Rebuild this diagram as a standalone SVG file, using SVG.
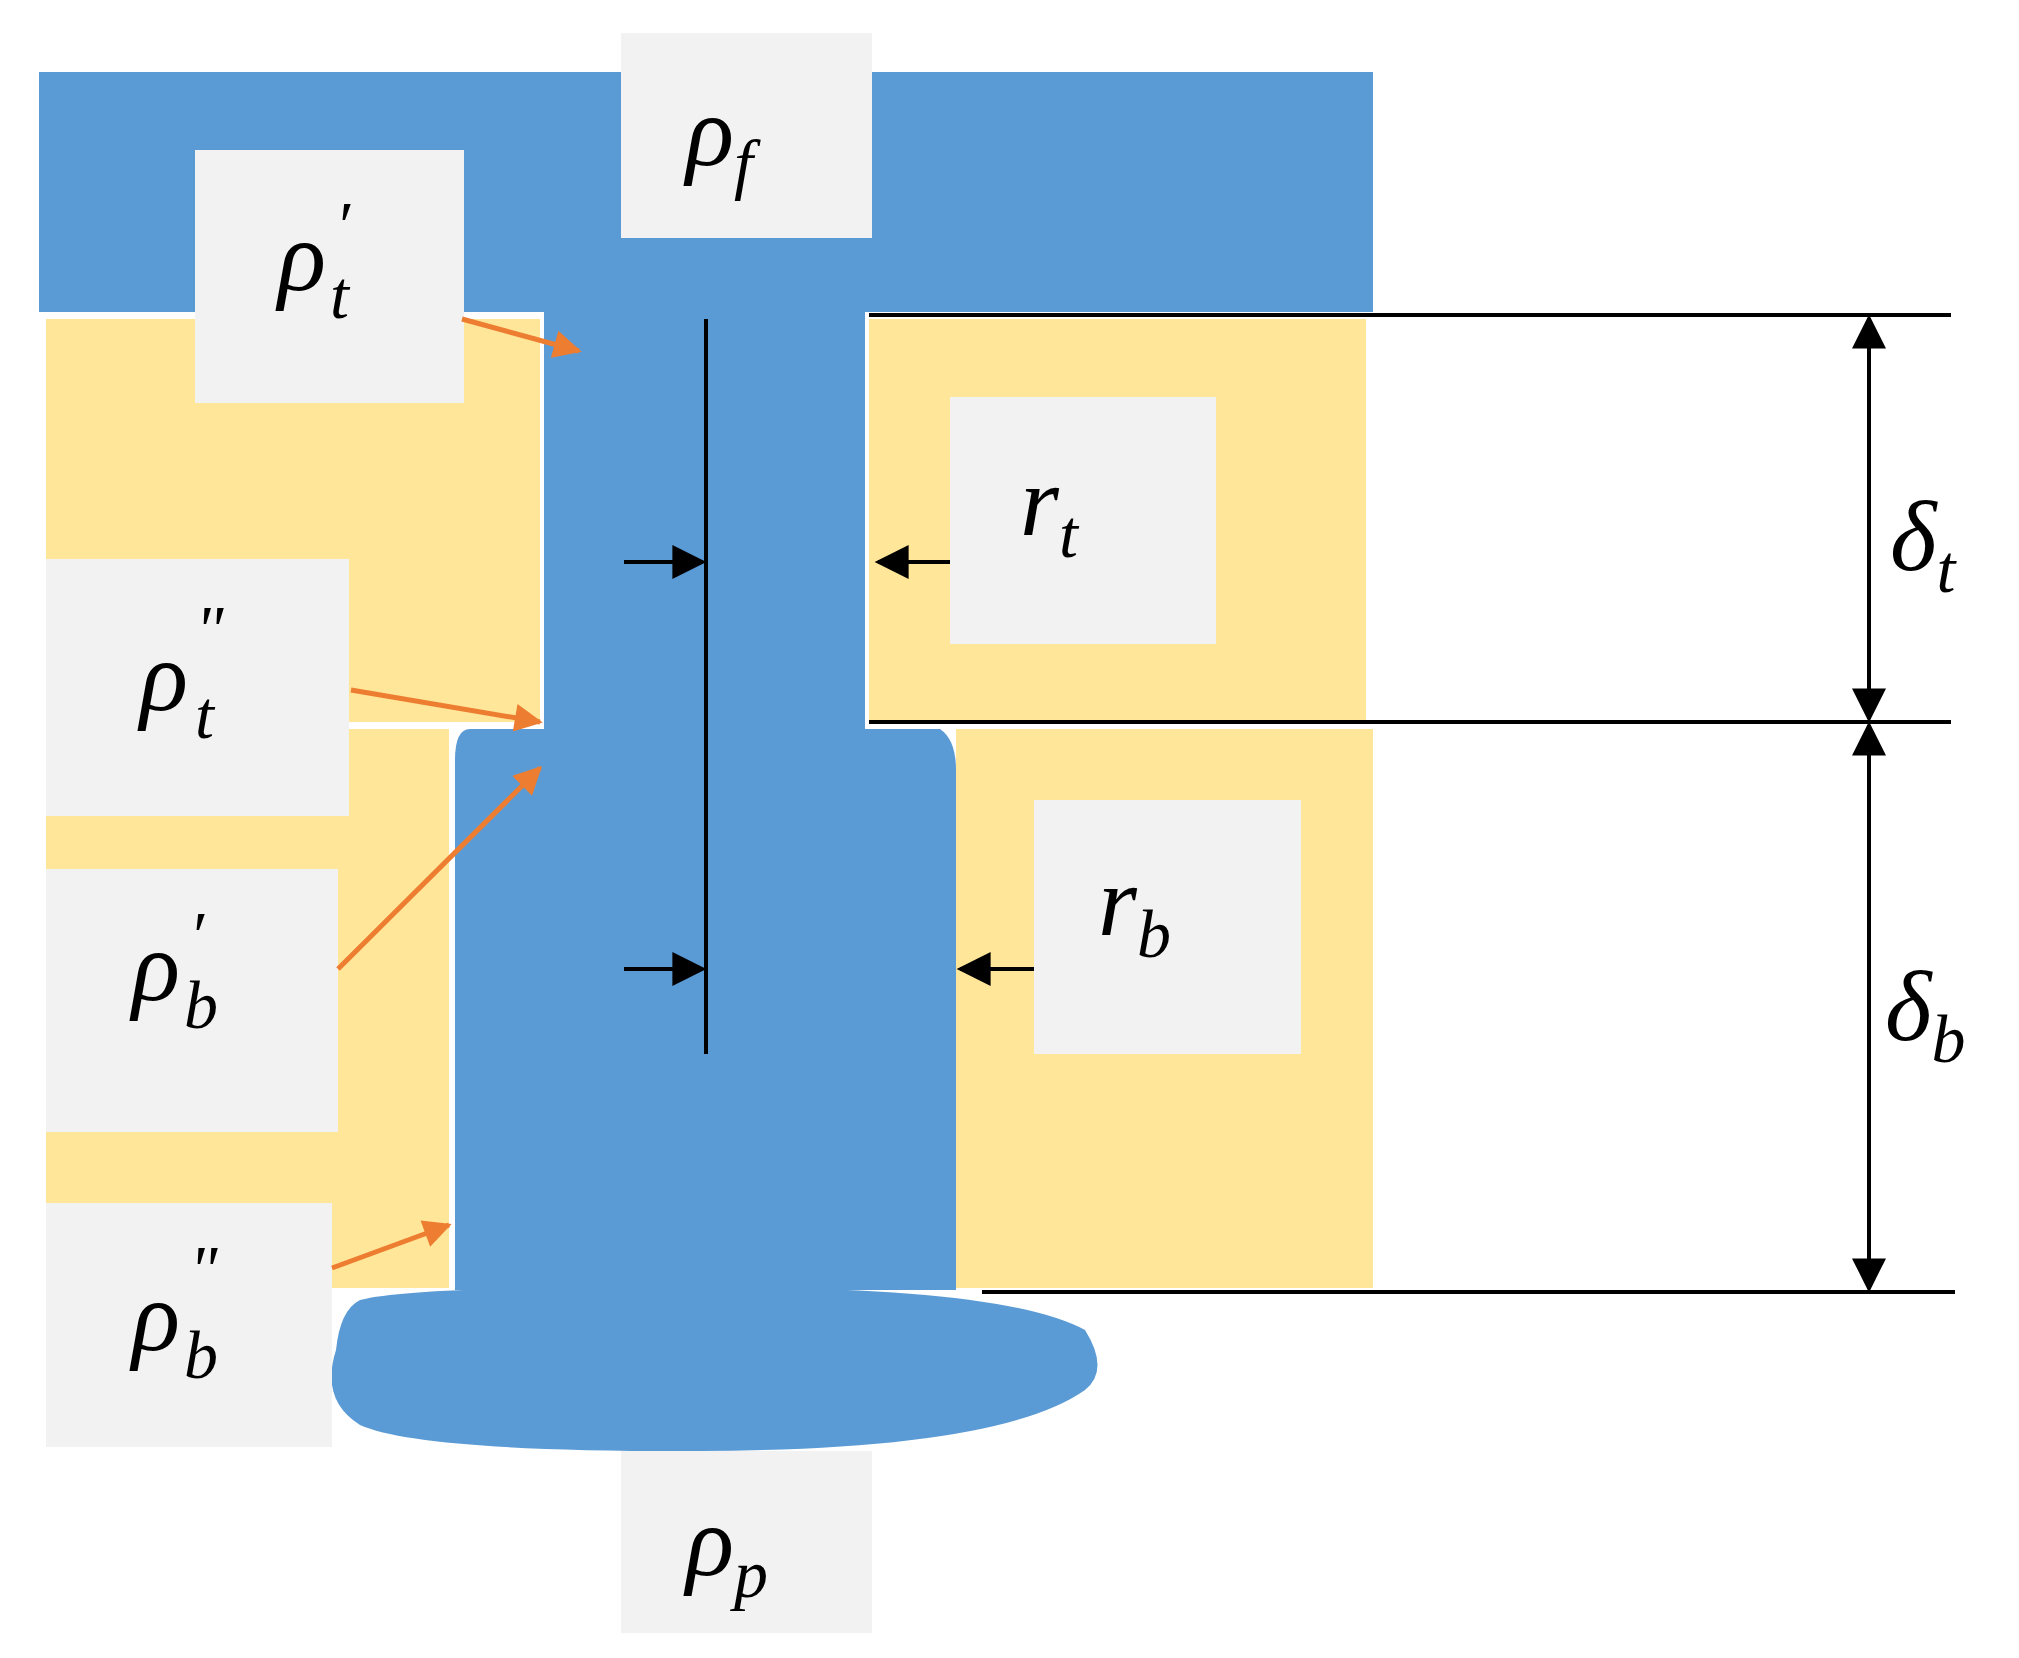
<svg xmlns="http://www.w3.org/2000/svg" width="2019" height="1658" viewBox="0 0 2019 1658">
<style>
.b{fill:#5b9bd5}.y{fill:#ffe699}.g{fill:#f2f2f2}
.t{font-family:"Liberation Serif","DejaVu Serif",serif;font-style:italic;font-size:100px;fill:#000}
.s{font-size:68px}
.k{stroke:#000;stroke-width:4;fill:none}
.o{stroke:#ed7d31;stroke-width:5;fill:none}
</style>
<defs>
<marker id="ab" viewBox="0 0 10 10" refX="9" refY="5" markerWidth="40" markerHeight="34" markerUnits="userSpaceOnUse" orient="auto"><path d="M0,0L10,5L0,10z" fill="#000"/></marker>
<marker id="ad" viewBox="0 0 10 10" refX="9" refY="5" markerWidth="40" markerHeight="34" markerUnits="userSpaceOnUse" orient="auto-start-reverse"><path d="M0,0L10,5L0,10z" fill="#000"/></marker>
<marker id="ao" viewBox="0 0 10 10" refX="9" refY="5" markerWidth="34" markerHeight="28" markerUnits="userSpaceOnUse" orient="auto"><path d="M0,0L10,5L0,10z" fill="#ed7d31"/></marker>
</defs>
<rect width="2019" height="1658" fill="#fff"/>
<g id="body">
<rect class="y" x="46" y="319" width="494" height="403"/>
<rect class="y" x="46" y="729" width="403" height="559"/>
<rect class="y" x="869" y="319" width="497" height="403"/>
<rect class="y" x="956" y="729" width="417" height="559"/>
<rect class="b" x="39" y="72" width="1334" height="240"/>
<rect class="b" x="544" y="300" width="321" height="430"/>
<path class="b" d="M470,729 L940,729 Q956,740 956,770 L956,1290 L455,1290 L455,760 Q455,729 470,729z"/>
<path class="b" d="M360,1300 Q420,1285 700,1288 Q1000,1285 1085,1330 Q1110,1370 1085,1390 Q1000,1450 700,1451 Q420,1452 360,1425 Q320,1400 336,1350 Q340,1310 360,1300z"/>
</g>
<g id="labels">
<g id="pf"><rect class="g" x="621" y="33" width="251" height="205"/><text class="t" x="686" y="165">ρ<tspan class="s" dy="22">f</tspan></text></g>
<g id="pt1"><rect class="g" x="195" y="150" width="269" height="253"/><text class="t" x="278" y="290">ρ</text><text class="t s" x="335" y="248">′</text><text class="t s" x="330" y="318">t</text></g>
<g id="pt2"><rect class="g" x="46" y="559" width="303" height="257"/><text class="t" x="140" y="710">ρ</text><text class="t s" x="195" y="652">"</text><text class="t s" x="195" y="738">t</text></g>
<g id="pb1"><rect class="g" x="46" y="869" width="292" height="263"/><text class="t" x="132" y="1000">ρ</text><text class="t s" x="189" y="958">′</text><text class="t s" x="184" y="1028">b</text></g>
<g id="pb2"><rect class="g" x="46" y="1203" width="286" height="244"/><text class="t" x="132" y="1350">ρ</text><text class="t s" x="189" y="1292">"</text><text class="t s" x="184" y="1378">b</text></g>
<g id="pp"><rect class="g" x="621" y="1451" width="251" height="182"/><text class="t" x="686" y="1575">ρ<tspan class="s" dy="22">p</tspan></text></g>
<g id="rt"><rect class="g" x="950" y="397" width="266" height="247"/><text class="t" x="1020" y="535">r<tspan class="s" dy="22">t</tspan></text></g>
<g id="rb"><rect class="g" x="1034" y="800" width="267" height="254"/><text class="t" x="1098" y="935">r<tspan class="s" dy="22">b</tspan></text></g>
<text class="t" x="1890" y="570">δ<tspan class="s" dy="22">t</tspan></text>
<text class="t" x="1885" y="1040">δ<tspan class="s" dy="22">b</tspan></text>
</g>
<g id="connectors">
<line class="k" x1="869" y1="315" x2="1951" y2="315"/>
<line class="k" x1="869" y1="722" x2="1951" y2="722"/>
<line class="k" x1="982" y1="1292" x2="1955" y2="1292"/>
<line class="k" x1="706" y1="319" x2="706" y2="1054" stroke-width="5"/>
<line class="k" x1="1869" y1="318" x2="1869" y2="719" marker-start="url(#ad)" marker-end="url(#ad)" stroke-width="5"/>
<line class="k" x1="1869" y1="725" x2="1869" y2="1289" marker-start="url(#ad)" marker-end="url(#ad)" stroke-width="5"/>
<line class="k" x1="624" y1="562" x2="703" y2="562" marker-end="url(#ab)"/>
<line class="k" x1="624" y1="969" x2="703" y2="969" marker-end="url(#ab)"/>
<line class="k" x1="950" y1="562" x2="878" y2="562" marker-end="url(#ab)"/>
<line class="k" x1="1034" y1="969" x2="960" y2="969" marker-end="url(#ab)"/>
<line class="o" x1="462" y1="319" x2="579" y2="351" marker-end="url(#ao)"/>
<line class="o" x1="351" y1="690" x2="540" y2="722" marker-end="url(#ao)"/>
<line class="o" x1="338" y1="969" x2="540" y2="768" marker-end="url(#ao)"/>
<line class="o" x1="332" y1="1268" x2="449" y2="1225" marker-end="url(#ao)"/>
</g>
</svg>
